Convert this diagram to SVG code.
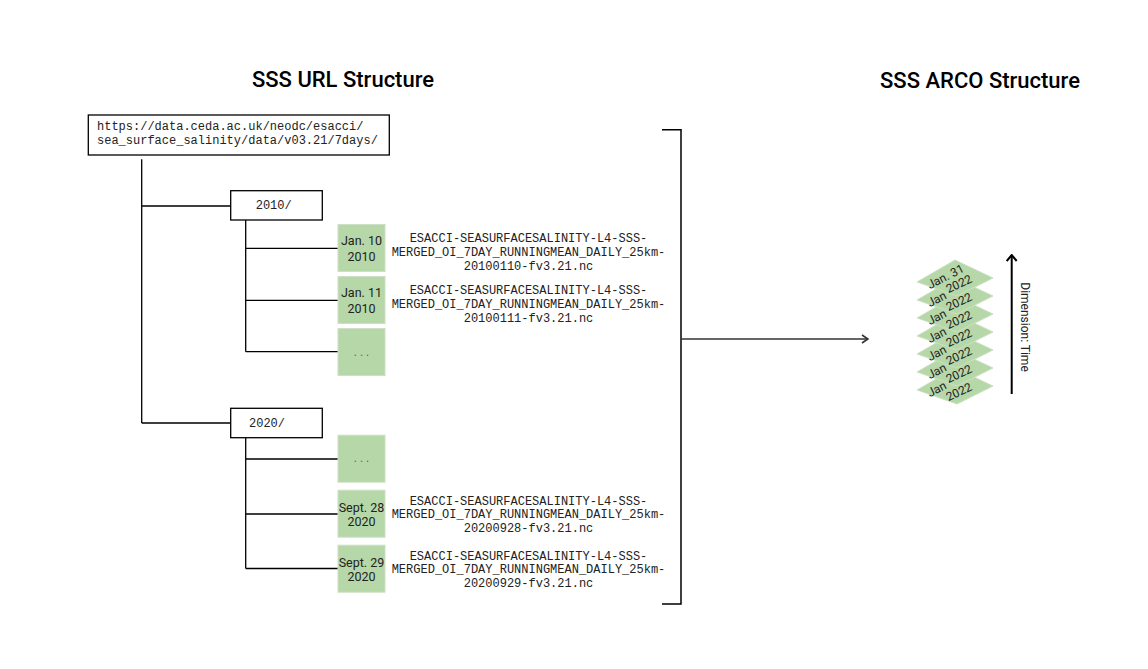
<svg xmlns="http://www.w3.org/2000/svg" width="1148" height="669" viewBox="0 0 1148 669">
<style>
.title{font-family:Roboto,"Liberation Sans",sans-serif;font-size:22px;font-weight:500;fill:#000}
.mono{font-family:"Liberation Mono","DejaVu Sans Mono",monospace;font-size:12px;fill:#222}
.mid{text-anchor:middle}
.box{fill:#fff;stroke:#000;stroke-width:1.3}
.g{fill:#b6d7a8;stroke:#cde0c3;stroke-width:1}
.gt{font-family:Roboto,"Liberation Sans",sans-serif;font-size:12.5px;fill:#222;text-anchor:middle}
.dots{font-family:Roboto,"Liberation Sans",sans-serif;font-size:12px;fill:#666;text-anchor:middle;letter-spacing:3px}
.ln{fill:none;stroke:#000;stroke-width:1.3}
.dt{font-family:Roboto,"Liberation Sans",sans-serif;font-size:12px;fill:#222}
.dim{font-family:Roboto,"Liberation Sans",sans-serif;font-size:12px;fill:#222;text-anchor:middle}
</style>
<defs>
<marker id="chev" viewBox="0 0 10 10" refX="9" refY="5" markerWidth="10" markerHeight="10" markerUnits="userSpaceOnUse" orient="auto">
<path d="M3,1 L9,5 L3,9" fill="none" stroke="#333" stroke-width="1.6"/>
</marker>
<marker id="chev2" viewBox="0 0 12 12" refX="11" refY="6" markerWidth="12" markerHeight="12" markerUnits="userSpaceOnUse" orient="auto">
<path d="M5,1 L11,6 L5,11" fill="none" stroke="#000" stroke-width="2"/>
</marker>
<g id="diamond">
<polygon class="g" points="955,260 993,278 957,296 917,282"/>
</g>
</defs>
<rect width="1148" height="669" fill="#fff"/>

<text class="title mid" x="343" y="87">SSS URL Structure</text>
<text class="title mid" x="980" y="88">SSS ARCO Structure</text>

<g id="connectors">
<path class="ln" d="M141.7,159.3 V423 M141.7,206 H230.7 M141.7,423 H230.7"/>
<path class="ln" d="M245.7,220 V351.7 M245.7,248.3 H338 M245.7,300.3 H338 M245.7,351.7 H338"/>
<path class="ln" d="M245.7,437.7 V568.5 M245.7,459 H338 M245.7,514 H338 M245.7,568.5 H338"/>
<path d="M662,129.7 H681 V604 H662" fill="none" stroke="#000" stroke-width="1.5"/>
<path d="M681,339 H868" fill="none" stroke="#333" stroke-width="1.6" marker-end="url(#chev)"/>
<path d="M1011.7,394 V255" fill="none" stroke="#000" stroke-width="2" marker-end="url(#chev2)"/>
</g>

<g id="url">
<rect class="box" x="88.3" y="115" width="301" height="40"/>
<text class="mono" x="97" y="130">https://data.ceda.ac.uk/neodc/esacci/</text>
<text class="mono" x="97" y="143.5">sea_surface_salinity/data/v03.21/7days/</text>
</g>

<g id="y2010">
<rect class="box" x="230.7" y="190.7" width="91.6" height="29.3"/>
<text class="mono" x="255.7" y="208.5">2010/</text>
</g>
<g id="y2020">
<rect class="box" x="230.7" y="408.3" width="91.6" height="29.4"/>
<text class="mono" x="249" y="426.7">2020/</text>
</g>

<g id="jan10">
<rect class="g" x="338" y="224.5" width="47" height="47"/>
<text class="gt" x="361.5" y="244.5">Jan. 10</text>
<text class="gt" x="361.5" y="260.5">2010</text>
<text class="mono mid" x="528.5" y="241.5">ESACCI-SEASURFACESALINITY-L4-SSS-</text>
<text class="mono mid" x="528.5" y="255.5">MERGED_OI_7DAY_RUNNINGMEAN_DAILY_25km-</text>
<text class="mono mid" x="528.5" y="269.5">20100110-fv3.21.nc</text>
</g>
<g id="jan11">
<rect class="g" x="338" y="276.5" width="47" height="47"/>
<text class="gt" x="361.5" y="296.5">Jan. 11</text>
<text class="gt" x="361.5" y="312.5">2010</text>
<text class="mono mid" x="528.5" y="293.5">ESACCI-SEASURFACESALINITY-L4-SSS-</text>
<text class="mono mid" x="528.5" y="307.5">MERGED_OI_7DAY_RUNNINGMEAN_DAILY_25km-</text>
<text class="mono mid" x="528.5" y="321.5">20100111-fv3.21.nc</text>
</g>
<g id="more2010">
<rect class="g" x="338" y="328.5" width="47" height="47"/>
<text class="dots" x="363" y="355.5">...</text>
</g>

<g id="more2020">
<rect class="g" x="338" y="435.2" width="47" height="47"/>
<text class="dots" x="363" y="462">...</text>
</g>
<g id="sep28">
<rect class="g" x="338" y="490.2" width="47" height="47"/>
<text class="gt" x="361.5" y="511.8">Sept. 28</text>
<text class="gt" x="361.5" y="526">2020</text>
<text class="mono mid" x="528.5" y="504.5">ESACCI-SEASURFACESALINITY-L4-SSS-</text>
<text class="mono mid" x="528.5" y="518">MERGED_OI_7DAY_RUNNINGMEAN_DAILY_25km-</text>
<text class="mono mid" x="528.5" y="531.5">20200928-fv3.21.nc</text>
</g>
<g id="sep29">
<rect class="g" x="338" y="545.2" width="47" height="47"/>
<text class="gt" x="361.5" y="566.8">Sept. 29</text>
<text class="gt" x="361.5" y="581">2020</text>
<text class="mono mid" x="528.5" y="559.5">ESACCI-SEASURFACESALINITY-L4-SSS-</text>
<text class="mono mid" x="528.5" y="573">MERGED_OI_7DAY_RUNNINGMEAN_DAILY_25km-</text>
<text class="mono mid" x="528.5" y="586.5">20200929-fv3.21.nc</text>
</g>

<g id="stack">
<g id="d6" transform="translate(0,108)"><use href="#diamond"/><text class="dt" transform="translate(945,277) rotate(-27)" x="-19" y="4">Jan</text><text class="dt mid" transform="translate(959,284) rotate(-25)" y="4">2022</text></g>
<g id="d5" transform="translate(0,90)"><use href="#diamond"/><text class="dt" transform="translate(945,277) rotate(-27)" x="-19" y="4">Jan</text><text class="dt mid" transform="translate(959,284) rotate(-25)" y="4">2022</text></g>
<g id="d4" transform="translate(0,72)"><use href="#diamond"/><text class="dt" transform="translate(945,277) rotate(-27)" x="-19" y="4">Jan</text><text class="dt mid" transform="translate(959,284) rotate(-25)" y="4">2022</text></g>
<g id="d3" transform="translate(0,54)"><use href="#diamond"/><text class="dt" transform="translate(945,277) rotate(-27)" x="-19" y="4">Jan</text><text class="dt mid" transform="translate(959,284) rotate(-25)" y="4">2022</text></g>
<g id="d2" transform="translate(0,36)"><use href="#diamond"/><text class="dt" transform="translate(945,277) rotate(-27)" x="-19" y="4">Jan</text><text class="dt mid" transform="translate(959,284) rotate(-25)" y="4">2022</text></g>
<g id="d1" transform="translate(0,18)"><use href="#diamond"/><text class="dt" transform="translate(945,277) rotate(-27)" x="-19" y="4">Jan</text><text class="dt mid" transform="translate(959,284) rotate(-25)" y="4">2022</text></g>
<g id="d0"><use href="#diamond"/><text class="dt" transform="translate(945,277) rotate(-27)" x="-19" y="4">Jan. 31</text><text class="dt mid" transform="translate(959,284) rotate(-25)" y="4">2022</text></g>
</g>

<g id="dimension">
<text class="dim" transform="translate(1021,327) rotate(90)" x="0" y="0">Dimension: Time</text>
</g>
</svg>
